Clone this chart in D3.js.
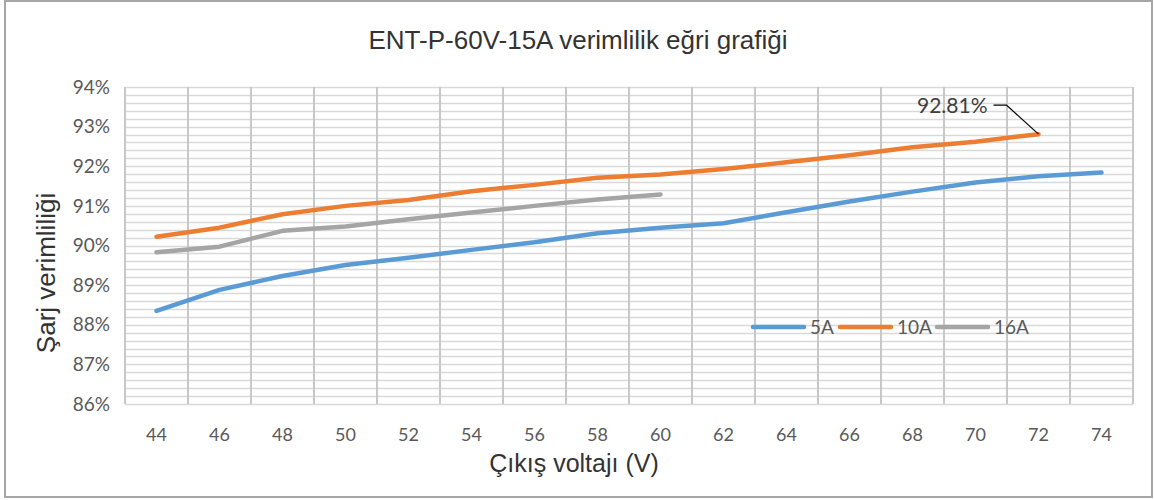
<!DOCTYPE html>
<html>
<head>
<meta charset="utf-8">
<script src="https://cdn.jsdelivr.net/npm/d3@7"></script>
<style>
  body { margin: 0; background: #fff; }
  svg { display: block; }
</style>
</head>
<body>
<div id="chart"></div>
<script>
const voltages = [44, 46, 48, 50, 52, 54, 56, 58, 60, 62, 64, 66, 68, 70, 72, 74];
const eff5A = [88.35, 88.88, 89.23, 89.51, 89.69, 89.89, 90.08, 90.31, 90.45, 90.56, 90.84, 91.11, 91.36, 91.59, 91.75, 91.84];
const eff10A = [90.22, 90.45, 90.79, 91.0, 91.15, 91.37, 91.53, 91.71, 91.79, 91.93, 92.1, 92.28, 92.48, 92.62, 92.81];
const eff16A = [89.83, 89.97, 90.37, 90.48, 90.66, 90.83, 91.0, 91.16, 91.29];
const seriesNames = ["5A", "10A", "16A"];
const seriesColors = ["#5b9bd5", "#ed7d31", "#a5a5a5"];

const width = 1154, height = 500;
const margin = { top: 87, right: 21, bottom: 96, left: 125 };
const labelFont = "Lato, 'Open Sans', sans-serif";
const titleFont = "'Liberation Sans', Arial, sans-serif";

const svg = d3.select("#chart").append("svg")
  .attr("width", width)
  .attr("height", height);

// outer frame
svg.append("rect")
  .attr("x", 5).attr("y", 1)
  .attr("width", 1147).attr("height", 496)
  .attr("fill", "#fff")
  .attr("stroke", "#a6a6a6")
  .attr("stroke-width", 2);

const x = d3.scaleBand()
  .domain(voltages)
  .range([margin.left, width - margin.right])
  .paddingInner(0).paddingOuter(0);

const y = d3.scaleLinear()
  .domain([86, 94])
  .range([height - margin.bottom, margin.top]);

const grid = svg.append("g");

// minor horizontal lines every 0.2%
grid.selectAll("line.h")
  .data(y.ticks(40))
  .enter().append("line")
  .attr("x1", margin.left).attr("x2", width - margin.right)
  .attr("y1", d => Math.round(y(d)) + 0.5)
  .attr("y2", d => Math.round(y(d)) + 0.5)
  .attr("stroke", "#d9d9d9")
  .attr("stroke-width", 1.5);

// vertical lines at category boundaries
const bounds = voltages.map(v => x(v)).concat([width - margin.right]);
grid.selectAll("line.v")
  .data(bounds)
  .enter().append("line")
  .attr("x1", d => Math.round(d)).attr("x2", d => Math.round(d))
  .attr("y1", margin.top).attr("y2", height - margin.bottom)
  .attr("stroke", "#c8c8c8")
  .attr("stroke-width", 2);

// y tick labels
svg.append("g")
  .selectAll("text")
  .data(y.ticks(8))
  .enter().append("text")
  .attr("x", 110)
  .attr("y", d => y(d))
  .attr("dy", "0.35em")
  .attr("text-anchor", "end")
  .attr("font-family", labelFont)
  .attr("font-size", 19)
  .attr("fill", "#595959")
  .text(d => d + "%");

// x tick labels
svg.append("g")
  .selectAll("text")
  .data(voltages)
  .enter().append("text")
  .attr("x", d => x(d) + x.bandwidth() / 2)
  .attr("y", 441)
  .attr("text-anchor", "middle")
  .attr("font-family", labelFont)
  .attr("font-size", 18)
  .attr("fill", "#595959")
  .text(d => d);

// series lines
const allSeries = [eff5A, eff10A, eff16A];
const line = d3.line()
  .x((d, i) => x(voltages[i]) + x.bandwidth() / 2)
  .y(d => y(d));

svg.append("g")
  .selectAll("path")
  .data(allSeries)
  .enter().append("path")
  .attr("d", d => line(d))
  .attr("fill", "none")
  .attr("stroke", (d, i) => seriesColors[i])
  .attr("stroke-width", 4.5)
  .attr("stroke-linecap", "round")
  .attr("stroke-linejoin", "round");

// data label on last 10A point
const lastIdx = eff10A.length - 1;
const px = x(voltages[lastIdx]) + x.bandwidth() / 2;
const py = y(eff10A[lastIdx]);
svg.append("path")
  .attr("d", `M${px - 45},${py - 29} L${px - 32},${py - 29} L${px},${py}`)
  .attr("fill", "none")
  .attr("stroke", "#000")
  .attr("stroke-width", 1.2);
svg.append("text")
  .attr("x", px - 51)
  .attr("y", py - 21)
  .attr("text-anchor", "end")
  .attr("font-family", labelFont)
  .attr("font-size", 21)
  .attr("fill", "#404040")
  .text(eff10A[lastIdx].toFixed(2) + "%");

// legend
const legendX = [753, 840, 937];
const legend = svg.append("g");
seriesNames.forEach((name, i) => {
  legend.append("line")
    .attr("x1", legendX[i]).attr("x2", legendX[i] + 51)
    .attr("y1", 327).attr("y2", 327)
    .attr("stroke", seriesColors[i])
    .attr("stroke-width", 4.5)
    .attr("stroke-linecap", "round");
  legend.append("text")
    .attr("x", legendX[i] + 57)
    .attr("y", 327)
    .attr("dy", "0.35em")
    .attr("font-family", labelFont)
    .attr("font-size", 19)
    .attr("fill", "#595959")
    .text(name);
});

// titles
svg.append("text")
  .attr("x", 578).attr("y", 48.5)
  .attr("text-anchor", "middle")
  .attr("font-family", titleFont)
  .attr("font-size", 26)
  .attr("fill", "#333")
  .text("ENT-P-60V-15A verimlilik eğri grafiği");

svg.append("text")
  .attr("transform", "translate(55,273) rotate(-90)")
  .attr("text-anchor", "middle")
  .attr("font-family", titleFont)
  .attr("font-size", 26)
  .attr("fill", "#333")
  .text("Şarj verimliliği");

svg.append("text")
  .attr("x", 574).attr("y", 472)
  .attr("text-anchor", "middle")
  .attr("font-family", titleFont)
  .attr("font-size", 25)
  .attr("fill", "#333")
  .text("Çıkış voltajı (V)");
</script>
</body>
</html>
